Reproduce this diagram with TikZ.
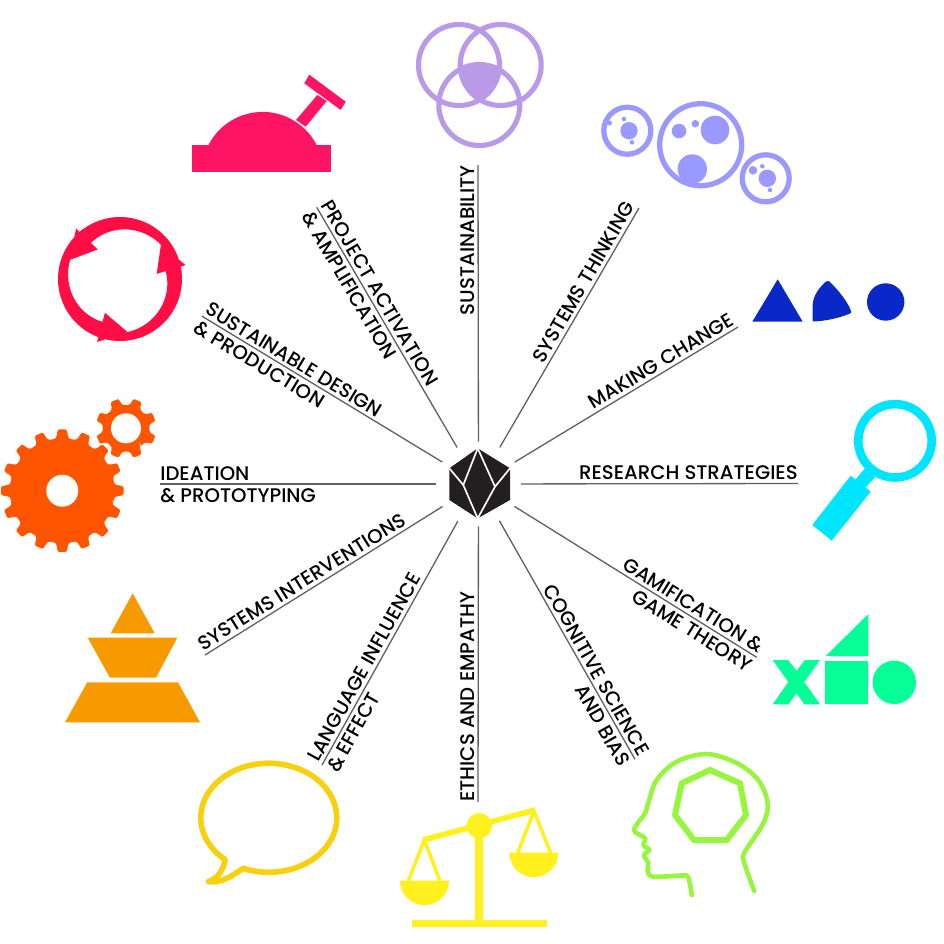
\documentclass[tikz,border=0pt]{standalone}
\usepackage{fontspec}
\setmainfont{Poppins Medium}
\usepackage{xcolor}
\usetikzlibrary{calc,positioning}
\definecolor{vennc}{HTML}{B99AE8}
\definecolor{thinkc}{HTML}{9999FF}
\definecolor{changec}{HTML}{0A28C8}
\definecolor{lensc}{HTML}{00E5FF}
\definecolor{gamec}{HTML}{05FF96}
\definecolor{headc}{HTML}{96F53C}
\definecolor{scalec}{HTML}{FFF01E}
\definecolor{bubblec}{HTML}{F7D010}
\definecolor{pyramidc}{HTML}{F79A00}
\definecolor{gearc}{HTML}{FF5500}
\definecolor{cyclec}{HTML}{FF0D45}
\definecolor{leverc}{HTML}{FF1464}
\definecolor{hubc}{HTML}{231F20}

\begin{document}
\begin{tikzpicture}[x=0.02cm, y=-0.02cm, line join=miter]
    \tikzstyle{my line} = [draw=black!62, line width=0.75pt]
    \tikzstyle{my label} = [font=\fontsize{11.2pt}{11.2pt}\selectfont, inner sep=0pt, text height=7.8pt, text depth=0pt]
    \tikzstyle{up label} = [my label, outer ysep=2.2pt, anchor=south west]
    \tikzstyle{down label} = [my label, outer ysep=2.6pt, anchor=north west]
    \tikzstyle{up end} = [my label, outer ysep=2.2pt, anchor=south east]
    \tikzstyle{down end} = [my label, outer ysep=2.6pt, anchor=north east]

    \useasboundingbox (0,0) rectangle (944,944);

    % hub and spokes
    \node[circle, minimum size=1.68cm, inner sep=0pt] (hub) at (478.5,484) {};
    \coordinate (tipsus) at (478,165);
    \coordinate (tipthink) at (639,208);
    \coordinate (tipchange) at (738,327);
    \coordinate (tipres) at (798,483.5);
    \coordinate (tipgame) at (756.7,657.3);
    \coordinate (tipcog) at (635,759.3);
    \coordinate (tipeth) at (478,802);
    \coordinate (tiplang) at (322,765);
    \coordinate (tipint) at (205,655);
    \coordinate (tipidea) at (160,484);
    \coordinate (tipdes) at (201.7,316);
    \coordinate (tipact) at (316.7,207.3);
    \foreach \t in {sus,think,change,res,game,cog,eth,lang,int,idea,des,act}
      \draw[my line] (hub) -- (tip\t);

    \fill[hubc] (477.7,448.3) -- (510,468.3) -- (510,500) -- (477.7,518.3) -- (449.3,500) -- (449.3,468.3) -- cycle;
    \draw[white, line width=0.95pt] (477.7,448.3) -- (463.3,485) -- (477.7,518.3) -- (495,486.7) -- cycle
      (449.3,468.3) -- (463.3,485) (510,468.3) -- (495,486.7);

    % labels
    \node[up end, rotate=90] (lsus) at (tipsus) {SUSTAINABILITY};
    \node[up end, rotate=59.8] (lthink) at (tipthink) {SYSTEMS THINKING};
    \node[up end, rotate=31.2] (lchange) at (tipchange) {MAKING CHANGE};
    \node[up end] (lres) at (tipres) {RESEARCH STRATEGIES};
    \node[up end, rotate=-31.9] (lgame) at (tipgame) {GAMIFICATION \&};
    \node[down end, rotate=-31.9] (lgameb) at (tipgame) {GAME THEORY};
    \node[up end, rotate=-60.4] (lcog) at (tipcog) {COGNITIVE SCIENCE};
    \node[down end, rotate=-60.4] (lcogb) at (tipcog) {AND BIAS};
    \node[up label, rotate=90] (leth) at (tipeth) {ETHICS AND EMPATHY};
    \node[up label, rotate=60.9] (llang) at (tiplang) {LANGUAGE INFLUENCE};
    \node[down label, rotate=60.9] (llangb) at (tiplang) {\& EFFECT};
    \node[up label, rotate=32] (lint) at (tipint) {SYSTEMS INTERVENTIONS};
    \node[up label] (lidea) at (tipidea) {IDEATION};
    \node[down label] (lideab) at (tipidea) {\& PROTOTYPING};
    \node[up label, rotate=-31.3] (ldes) at (tipdes) {SUSTAINABLE DESIGN};
    \node[down label, rotate=-31.3] (ldesb) at (tipdes) {\& PRODUCTION};
    \node[up label, rotate=-59.5] (lact) at (tipact) {PROJECT ACTIVATION};
    \node[down label, rotate=-59.5] (lactb) at (tipact) {\& AMPLIFICATION};

    % venn
    \begin{scope}
      \clip (459,65) circle (40.5);
      \clip (500.7,65) circle (40.5);
      \fill[vennc] (479.3,105) circle (40.5);
    \end{scope}
    \draw[vennc, line width=2.9pt] (459,65) circle (40.5) (500.7,65) circle (40.5) (479.3,105) circle (40.5);

    % systems
    \draw[thinkc, line width=3pt] (700.7,144.7) circle (41) (627.3,130.7) circle (23.5) (765.7,178.3) circle (23.5);
    \fill[thinkc] (715,130) circle (14.3) (692.3,169) circle (14.7) (679,131) circle (7.3) (695.3,123.7) circle (3.7)
      (629,130.7) circle (8.7) (624,119) circle (2.3) (632,142.3) circle (2.3) (609.5,123) circle (2.5)
      (767.3,178.3) circle (8.7) (753,170.3) circle (4.3) (762.3,166.3) circle (2.3) (770,190) circle (2.3);

    % change
    \fill[changec] (777.7,279.3) -- (802.7,321.7) -- (752.3,321.7) -- cycle;
    \fill[changec] (812.7,320.7) -- (812.7,305) .. controls (813,295) and (820,287) .. (826,281.5)
      .. controls (828,280.5) and (830,281) .. (831,283) .. controls (838,290) and (848,302) .. (851,311)
      .. controls (851.5,312) and (851,313) .. (850,313.5) .. controls (840,318) and (825,321) .. (814,321.5) -- cycle;
    \fill[changec] (885.7,302) circle (18.7);

    % lens
    \draw[lensc, line width=4.9pt] (895,440.8) circle (36.7);
    \fill[lensc] (865,468.3) -- (875,477.3) -- (865,488.3) -- (855,480) -- cycle;
    \fill[lensc] (850.7,475.7) -- (870.7,491.7) -- (831.7,540.7) -- (812.3,525) -- cycle;

    % game
    \fill[gamec] (772.7,660) -- (788.3,660) -- (796.5,671) -- (804.7,660) -- (820,660) -- (804.3,682) -- (820,704.3)
      -- (804.3,704.3) -- (796.5,693.3) -- (788.3,704.3) -- (772.7,704.3) -- (788.3,682) -- cycle;
    \fill[gamec] (825,660.7) rectangle (868.3,704);
    \fill[gamec] (868.3,614) -- (868.3,656) -- (825.7,656) -- cycle;
    \fill[gamec] (894.3,682.3) circle (21.7);

    % head
    \draw[headc, line width=2.6pt, line cap=round, line join=round] plot[smooth, tension=0.55] coordinates {
      (691.7,895) (688.3,877.5) (682,875.5) (653.3,876.7) (647.7,871) (648.3,863) (644,855) (649.5,850) (643.5,845) (645,838) (634,830)
      (645,813.3) (648.3,803) (656.7,780) (676.7,761.7) (706.7,754) (736.7,763) (758.3,780) (767.7,803.3)
      (763.3,823.3) (745,851.7) (744,861.7) (754.3,891)};
    \draw[headc, line width=3.4pt] (710,770) -- (740,783.3) -- (746,815) -- (726.7,840) -- (694,840) -- (675,815) -- (681.7,783.3) -- cycle;

    % scale
    \fill[scalec] (412.3,920.3) rectangle (546.7,927.3);
    \fill[scalec] (475.3,830) rectangle (483.3,921);
    \fill[scalec] (479.3,825.7) circle (12.7);
    \draw[scalec, line width=3.2pt] (423.3,840) -- (535,810);
    \draw[scalec, line width=2pt] (408.3,881) -- (424.3,840) -- (440,881) (517.7,853) -- (534,811) -- (550.7,853);
    \fill[scalec] (400,880.7) arc[start angle=180, end angle=0, radius=24.5] -- cycle;
    \fill[scalec] (509.3,852.7) arc[start angle=180, end angle=0, radius=24.5] -- cycle;

    % bubble
    \draw[bubblec, line width=3.2pt, line join=round] (243.3,868.3) arc[start angle=112, end angle=-230, x radius=68, y radius=54.5]
      .. controls (224,868) and (219,878) .. (208.5,881.5) .. controls (221,884) and (233,875) .. (243.3,868.3) -- cycle;

    % pyramid
    \fill[pyramidc] (132.7,593.3) -- (154.7,633.3) -- (110.7,633.3) -- cycle;
    \fill[pyramidc] (87.7,637.7) -- (177.3,637.7) -- (156,677.7) -- (110,677.7) -- cycle;
    \fill[pyramidc] (87.3,682.3) -- (178,682.3) -- (200,722.3) -- (65,722.3) -- cycle;

    % gears
    \foreach \cx/\cy/\n/\ro/\ri/\hole/\off in {62.3/490.7/16/62/53/16/0, 126/428.3/8/31/24/15/22.5} {
      \begin{scope}[shift={(\cx,\cy)}]
        \fill[gearc, draw=white, line width=0.5pt, rounded corners=1.2pt] (\off+0.68*360/\n:\ri)
          \foreach \i [evaluate=\i as \a using \off+\i*360/\n] in {1,...,\n} {
            -- (\a-0.32*360/\n:\ri) -- (\a-0.2*360/\n:\ro) -- (\a+0.2*360/\n:\ro) -- (\a+0.32*360/\n:\ri)
          } -- cycle;
        \fill[white] (0,0) circle (\hole);
      \end{scope}
    }

    % cycle
    \foreach \k in {0,122,241} {
      \fill[cyclec] plot[domain=-14:112, samples=40] ({120+62*cos(\x+\k)},{279+62*sin(\x+\k)})
        -- plot[domain=112:-14, samples=40] ({120+(46+10*(14+\x)/126)*cos(\x+\k)},{279+(46+10*(14+\x)/126)*sin(\x+\k)}) -- cycle;
      \fill[cyclec] ({120+53.5*cos(\k-40)},{279+53.5*sin(\k-40)}) -- ({120+67*cos(\k-12)},{279+67*sin(\k-12)})
        -- ({120+37*cos(\k-8)},{279+37*sin(\k-8)}) -- cycle;
    }

    % lever
    \fill[leverc] (192.3,145) rectangle (331,172);
    \fill[leverc] (208,146) arc[start angle=206, end angle=334, radius=60.7] -- cycle;
    \fill[leverc] (317.3,95) -- (326.7,101) -- (305.7,126.7) -- (296,120) -- cycle;
    \fill[leverc] (309.3,74.7) -- (345.7,101.7) -- (340.7,110) -- (304.3,83.3) -- cycle;
  \end{tikzpicture}
\end{document}
